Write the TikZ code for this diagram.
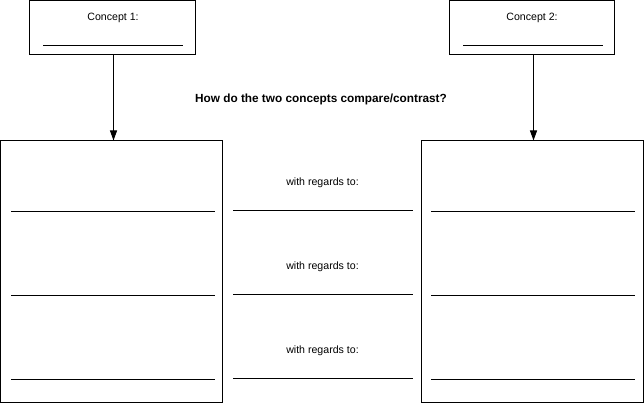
\documentclass[tikz,border=0pt]{standalone}
\usepackage{fontspec}
\setmainfont{Liberation Sans}
\usetikzlibrary{arrows.meta}
\begin{document}
\begin{tikzpicture}[x=1pt,y=-1pt,
  box/.style={draw=black,line width=1pt,minimum width=#1,inner sep=0pt,outer sep=0pt},
  lbl/.style={font=\fontsize{10.6}{12}\selectfont,inner sep=0pt,anchor=center},
  rule/.style={line width=1pt},
  arr/.style={line width=1pt,-{Triangle[length=10pt,width=7pt]}}]
\useasboundingbox (0,0) rectangle (644,403);
% concept boxes
\node[box=166pt,minimum height=54pt] (c1) at (112.5,27.5) {};
\node[box=165pt,minimum height=54pt] (c2) at (532,27.5) {};
\node[lbl] (t1) at (113,17.5) {Concept 1:};
\node[lbl] (t2) at (532,17.5) {Concept 2:};
\draw[rule] (43,45.5) -- (183,45.5);
\draw[rule] (463,45.5) -- (603,45.5);
% big boxes
\node[box=222pt,minimum height=262pt] (b1) at (111.5,271.5) {};
\node[box=222pt,minimum height=262pt] (b2) at (532.5,271.5) {};
% arrows
\draw[arr] (c1.south -| 113.5,0) -- (b1.north -| 113.5,0);
\draw[arr] (c2.south -| 533.5,0) -- (b2.north -| 533.5,0);
% question
\node[font=\bfseries\fontsize{11.8}{14}\selectfont,inner sep=0pt] (q) at (321,99) {How do the two concepts compare/contrast?};
% rows
\foreach \y/\n in {211/1,295/2,379/3}{
  \draw[rule] (11,\y+0.5) -- (215,\y+0.5);
  \draw[rule] (233,\y-0.5) -- (413,\y-0.5);
  \draw[rule] (431,\y+0.5) -- (635,\y+0.5);
  \node[lbl] (w\n) at (322.5,\y-28) {with regards to:};
}
\end{tikzpicture}
\end{document}
